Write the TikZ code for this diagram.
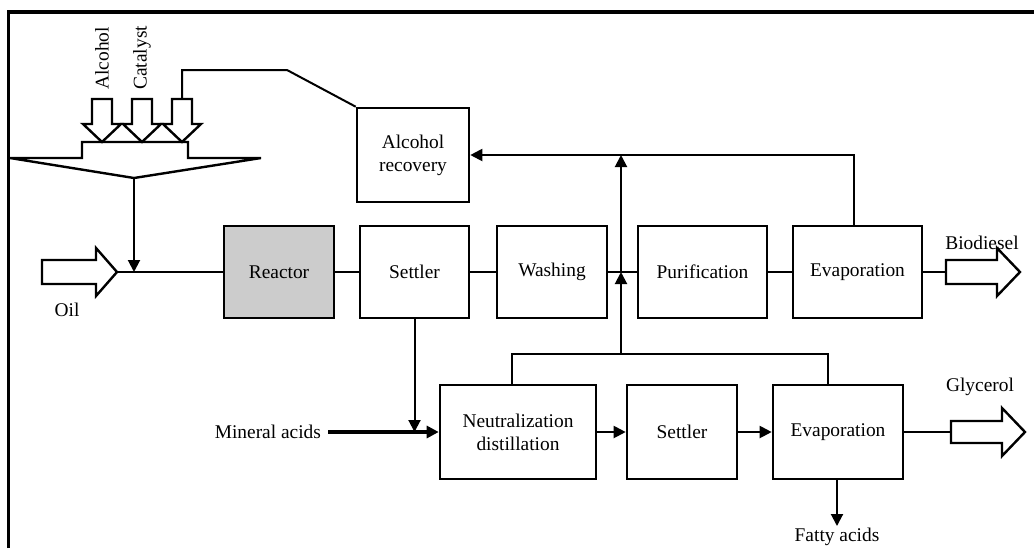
\documentclass[tikz,border=0pt]{standalone}
\usepackage{fontspec}
\setmainfont{Liberation Serif}
\usetikzlibrary{arrows.meta}

\tikzset{
  unit/.style={draw, line width=1.3pt, minimum height=46pt, align=center, inner sep=2pt},
  flow/.style={line width=1pt},
  feed/.style={flow, -{Triangle[length=6pt,width=6pt]}},
  hollow/.style={draw, line width=1.2pt, fill=white, line join=miter},
  lbl/.style={inner sep=0pt}
}

\begin{document}
\begin{tikzpicture}[x=0.5pt, y=-0.5pt, every node/.style={font=\fontsize{9.7}{11.5}\selectfont}]
  \useasboundingbox (0,0) rectangle (1034,548);
  % frame
  \draw[line width=1.6pt] (8.5,548) -- (8.5,12) -- (1034,12);

  % process units
  \node[unit, minimum width=56pt, minimum height=47pt] (recovery) at (413,155) {Alcohol\\recovery};
  \node[unit, fill=black!20, minimum width=55pt] (reactor) at (279,272) {Reactor};
  \node[unit, minimum width=54.5pt] (settler) at (414.5,272) {Settler};
  \node[unit, minimum width=55pt] (washing) at (552,272) {Washing};
  \node[unit, minimum width=64.5pt] (purification) at (702.5,272) {Purification};
  \node[unit, minimum width=64.5pt] (evaporation) at (857.5,272) {Evaporation};
  \node[unit, minimum width=78pt, minimum height=47pt] (neutral) at (518,432) {Neutralization\\distillation};
  \node[unit, minimum width=55pt, minimum height=47pt] (settlerb) at (682,432) {Settler};
  \node[unit, minimum width=65pt, minimum height=47pt] (evaporationb) at (838,432) {Evaporation};

  % feeds on top
  \draw[hollow] (82,142) -- (188,142) -- (188,158) -- (261,158) -- (134,178) coordinate (mix)
    -- (10,158) -- (82,158) -- cycle;
  \foreach \x/\n in {102/a, 142/b, 182/c} {
    \draw[hollow] (\x-10,99) -- (\x+10,99) -- (\x+10,124) -- (\x+19,124) -- (\x,142)
      -- (\x-19,124) -- (\x-10,124) -- cycle;
    \coordinate (in\n) at (\x,99);
  }
  \node[lbl, rotate=90, anchor=west] (alcohol) at (102,90) {Alcohol};
  \node[lbl, rotate=90, anchor=west] (catalyst) at (142,90) {Catalyst};
  \draw[flow] (inc) |- (287,70) -- (recovery.north west);

  % oil
  \draw[hollow] (42,260) -- (96,260) -- (96,248) -- (117,272) coordinate (oil)
    -- (96,296) -- (96,284) -- (42,284) -- cycle;
  \node (oillbl) at (67,310) {Oil};
  \coordinate (mixin) at (134,272);
  \draw[feed] (mix) -- (mixin);
  \draw[flow] (oil) -- (reactor);

  % main line
  \draw[flow] (reactor) -- (settler);
  \draw[flow] (settler) -- (washing);
  \draw[flow] (washing) -- (purification);
  \draw[flow] (purification) -- (evaporation);

  % biodiesel
  \draw[hollow] (946,260) -- (997,260) -- (997,248) -- (1020,272) -- (997,296) -- (997,284)
    -- (946,284) -- cycle;
  \coordinate (biobase) at (946,272);
  \node (biodiesel) at (982,243) {Biodiesel};
  \draw[flow] (evaporation) -- (biobase);

  % alcohol return
  \draw[feed] ([xshift=-2pt]evaporation.north) |- (recovery.east);
  \coordinate (split) at (621,354);
  \coordinate (mainj) at (621,272);
  \coordinate (recj) at (621,155);
  \draw[feed] (split) -- (mainj);
  \draw[feed] (mainj) -- (recj);

  % glycerol line
  \node[anchor=east] (acids) at (328,432) {Mineral acids};
  \draw[feed, line width=1.6pt] (acids) -- (neutral);
  \draw[feed] (settler.south) -- (settler.south |- acids.east);
  \draw[feed] (neutral) -- (settlerb);
  \draw[feed] (settlerb) -- (evaporationb);
  \draw[flow] ([xshift=-3pt]neutral.north) |- (split) -| ([xshift=-5pt]evaporationb.north);

  % glycerol
  \draw[hollow] (951,421) -- (1002,421) -- (1002,408) -- (1025,432) -- (1002,456) -- (1002,443)
    -- (951,443) -- cycle;
  \coordinate (glybase) at (951,432);
  \node (glycerol) at (980,387) {Glycerol};
  \draw[flow] (evaporationb) -- (glybase);

  % fatty acids
  \node[anchor=north, inner sep=1pt] (fatty) at (837,526) {Fatty acids};
  \draw[feed] (evaporationb.south -| fatty.north) -- (fatty.north);
\end{tikzpicture}
\end{document}
